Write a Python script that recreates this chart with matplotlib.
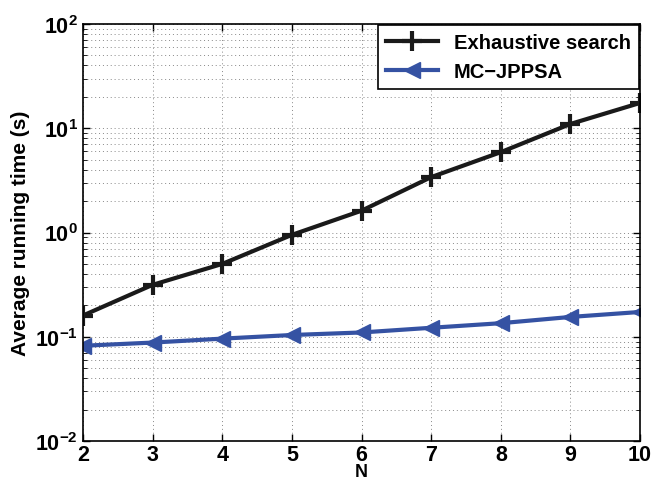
import matplotlib
matplotlib.use("Agg")
import matplotlib.pyplot as plt
from matplotlib.ticker import LogLocator, FixedLocator

plt.rcParams['font.family'] = ['Liberation Sans', 'DejaVu Sans']
plt.rcParams['font.weight'] = 'bold'
plt.rcParams['mathtext.fontset'] = 'custom'
plt.rcParams['mathtext.rm'] = 'Liberation Sans:bold'
plt.rcParams['mathtext.bf'] = 'Liberation Sans:bold'
plt.rcParams['mathtext.default'] = 'bf'

# data
N = [2, 3, 4, 5, 6, 7, 8, 9, 10]
exhaustive = [0.16, 0.315, 0.50, 0.95, 1.62, 3.4, 5.9, 11.0, 17.5]
mc_jppsa = [0.082, 0.088, 0.096, 0.104, 0.110, 0.122, 0.135, 0.155, 0.173]

fig = plt.figure(figsize=(6.64, 4.81), dpi=100)
ax = fig.add_axes([0.125, 0.081, 0.839, 0.867])

ax.plot(N, exhaustive, color='#1a1a1a', lw=3, marker='+', ms=14, mew=3,
        label='Exhaustive search')
ax.plot(N, mc_jppsa, color='#3552a3', lw=3, marker='<', ms=11,
        label='MC\u2212JPPSA')

ax.set_yscale('log')
ax.set_ylim(1e-2, 1e2)
ax.set_xlim(2, 10)
ax.xaxis.set_major_locator(FixedLocator(N))
ax.yaxis.set_major_locator(LogLocator(base=10, numticks=10))
ax.yaxis.set_minor_locator(LogLocator(base=10, subs=range(2, 10), numticks=50))

ax.grid(True, which='major', linestyle=(0, (1, 3)), color='#888888', lw=0.7)
ax.grid(True, which='minor', axis='y', linestyle=(0, (1, 3)), color='#888888', lw=0.7)

ax.tick_params(which='both', direction='in', top=True, right=True)
ax.tick_params(which='major', length=5, labelsize=15.5, width=1)
ax.tick_params(which='minor', length=3)
ax.tick_params(axis='x', pad=2)
for sp in ax.spines.values():
    sp.set_linewidth(1.2)

ax.set_xlabel('N', fontsize=13, fontweight='bold', labelpad=-1)
ax.set_ylabel('Average running time (s)', fontsize=15, fontweight='bold')

leg = ax.legend(loc='upper right', fontsize=14.5, fancybox=False, framealpha=1,
                edgecolor='black', handlelength=2.6, borderaxespad=0.05)
leg.get_frame().set_linewidth(1.2)

fig.savefig('out.png', dpi=100)
